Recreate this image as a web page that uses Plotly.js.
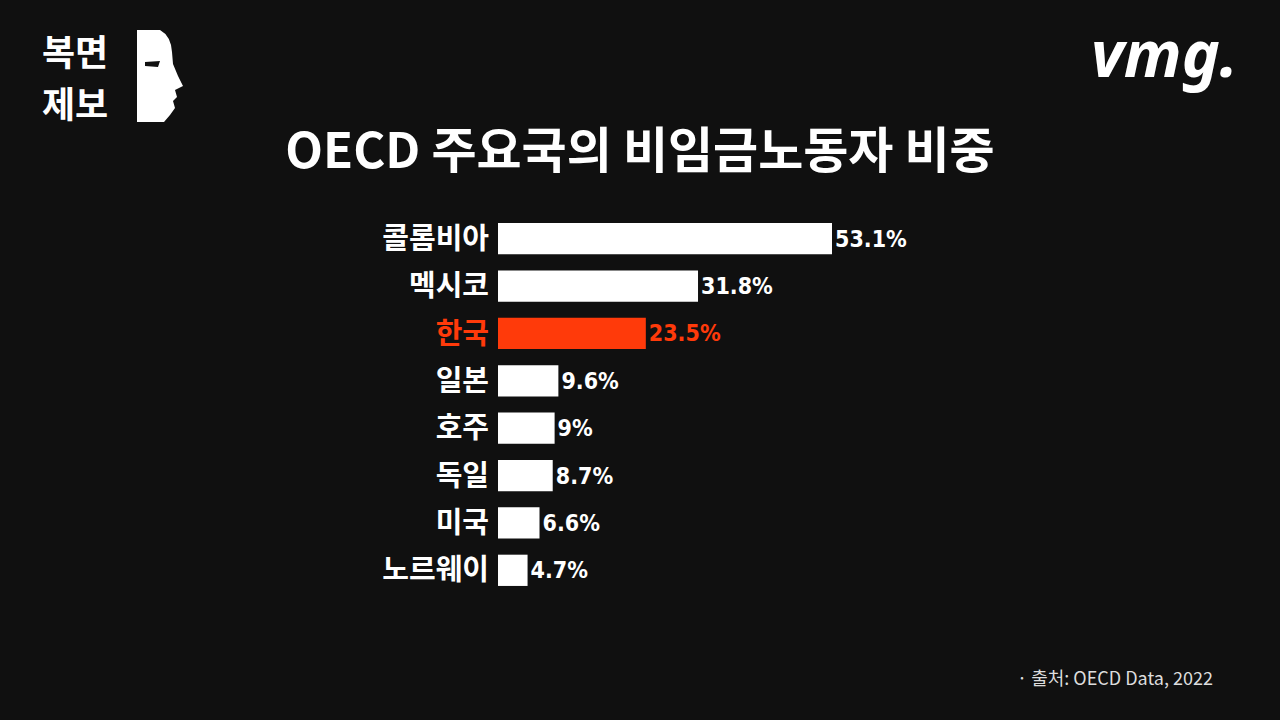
<!DOCTYPE html>
<html>
<head>
<meta charset="utf-8">
<script src="https://cdn.plot.ly/plotly-3.0.1.min.js"></script>
<style>
html,body{margin:0;padding:0;background:#101010;}
#chart{width:1280px;height:720px;}
</style>
</head>
<body>
<div id="chart"></div>
<script>
const countries = ["콜롬비아","멕시코","한국","일본","호주","독일","미국","노르웨이"];
const shares = [53.1, 31.8, 23.5, 9.6, 9, 8.7, 6.6, 4.7];
const valueLabels = ["53.1%","31.8%","23.5%","9.6%","9%","8.7%","6.6%","4.7%"];
const highlight = "한국";

const RED = "#ff3a0a";
const WHITE = "#ffffff";
const BG = "#101010";

const colors = countries.map(c => c === highlight ? RED : WHITE);
const tickText = countries.map(c => c === highlight ? '<span style="color:' + RED + '">' + c + '</span>' : c);

// plot area in pixels
const L = 498, W = 629, T = 215, H = 379;
const B = 720 - T - H, R = 1280 - L - W;
const px = x => (x - L) / W;
const py = y => (T + H - y) / H;

// mask path (decorative logo)
function pt(x, y){ return px(x).toFixed(5) + ',' + py(y).toFixed(5); }
const maskPath = 'M' + pt(137,30) + ' L' + pt(160,30) + ' Q' + pt(171,36) + ' ' + pt(172,52) +
  ' L' + pt(173,64) + ' L' + pt(178,76) + ' L' + pt(183,86) + ' L' + pt(175,90) +
  ' L' + pt(177,97) + ' L' + pt(173,101) + ' L' + pt(175,108) + ' L' + pt(170,115) +
  ' L' + pt(164,122) + ' L' + pt(137,122) + ' Z';
const eyePath = 'M' + pt(145,62) + ' L' + pt(160,61) + ' L' + pt(158,67) + ' L' + pt(145,66) + ' Z';

const data = [{
  type: 'bar',
  orientation: 'h',
  y: countries,
  x: shares,
  marker: {color: colors, line: {width: 0}},
  width: 0.66,
  text: valueLabels,
  textposition: 'outside',
  cliponaxis: false,
  textfont: {family: '"DejaVu Sans Condensed", "Liberation Sans Narrow", sans-serif', size: 23, color: colors, weight: 700},
  hoverinfo: 'none'
}];

const logoFont = {family: '"Noto Sans CJK KR", sans-serif', size: 36, color: WHITE};

const layout = {
  width: 1280, height: 720,
  paper_bgcolor: BG, plot_bgcolor: BG,
  margin: {l: L, r: R, t: T, b: B, pad: 0},
  showlegend: false,
  title: {
    text: '<b>OECD 주요국의 비임금노동자 비중</b>',
    font: {family: '"Noto Sans CJK KR", sans-serif', size: 49, color: WHITE},
    x: 0.5, xanchor: 'center', xref: 'container',
    y: 1 - 151/720, yanchor: 'middle', yref: 'container'
  },
  xaxis: {range: [0, 100], visible: false, fixedrange: true},
  yaxis: {
    type: 'category',
    autorange: 'reversed',
    tickmode: 'array', tickvals: countries, ticktext: tickText,
    tickfont: {family: '"Noto Sans CJK KR", sans-serif', size: 29, color: WHITE, weight: 700},
    showgrid: false, zeroline: false, showline: false, ticks: '',
    ticklabelstandoff: 8
  },
  shapes: [
    {type: 'path', xref: 'paper', yref: 'paper', path: maskPath, fillcolor: WHITE, line: {width: 0}},
    {type: 'path', xref: 'paper', yref: 'paper', path: eyePath, fillcolor: BG, line: {width: 0}}
  ],
  annotations: [
    {text: '<b>복면</b>', xref: 'paper', yref: 'paper', x: px(40), y: py(50), xanchor: 'left', yanchor: 'middle',
     showarrow: false, font: logoFont},
    {text: '<b>제보</b>', xref: 'paper', yref: 'paper', x: px(40), y: py(102), xanchor: 'left', yanchor: 'middle',
     showarrow: false, font: logoFont},
    {text: '<b><i>vmg.</i></b>', xref: 'paper', yref: 'paper', x: px(1240), y: py(52), xanchor: 'right', yanchor: 'middle',
     showarrow: false, font: {family: '"Noto Sans", sans-serif', size: 64, color: WHITE}},
    {text: '· 출처: OECD Data, 2022', xref: 'paper', yref: 'paper', x: px(1215), y: py(677), xanchor: 'right', yanchor: 'middle',
     showarrow: false, font: {family: '"Noto Sans CJK KR", sans-serif', size: 18, color: '#dddddd'}}
  ]
};

Plotly.newPlot('chart', data, layout, {staticPlot: true, displayModeBar: false});
</script>
</body>
</html>
